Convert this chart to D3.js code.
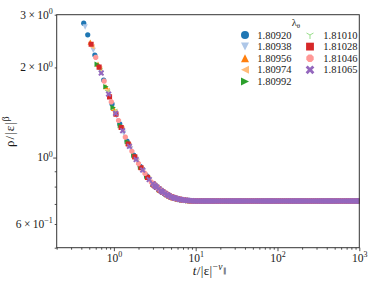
<!DOCTYPE html>
<html><head><meta charset="utf-8">
<script src="https://cdn.jsdelivr.net/npm/d3@7"></script>
<style>
body{margin:0;background:#fff}
svg{display:block}
text{font-family:"Liberation Serif","Times New Roman",serif;fill:#1a1a1a}
</style>
</head><body>
<svg id="c" width="374" height="283"></svg>
<script>
// ---------- data ----------
const lambdas = ["1.80920","1.80938","1.80956","1.80974","1.80992","1.81010","1.81028","1.81046","1.81065"];
const colors  = ["#1f77b4","#aec7e8","#ff7f0e","#ffbb78","#2ca02c","#98df8a","#d62728","#ff9896","#9467bd"];
const shapes  = ["circle","down","up","left","right","tri","square","octagon","x"];

const t0 = [0.428,0.479,0.585,0.75,0.95,1.18,1.45,1.75,2.1,2.5,3.0,3.6,4.3,5.2,6.3];
const r0 = [2.81,2.57,2.20,1.815,1.51,1.295,1.135,1.02,0.935,0.87,0.817,0.78,0.756,0.737,0.726];
const t1 = [0.445,0.56,0.70,0.87,1.08,1.32,1.6,1.93,2.3,2.75,3.3,3.95,4.75,5.7,6.9];
const r1 = [2.73,2.28,1.915,1.62,1.375,1.205,1.07,0.97,0.90,0.84,0.795,0.766,0.745,0.731,0.722];
const t2 = [0.515,0.64,0.8,0.99,1.22,1.48,1.78,2.13,2.55,3.05,3.65,4.4,5.3,6.4];
const r2 = [2.43,2.05,1.725,1.46,1.27,1.12,1.01,0.928,0.863,0.813,0.778,0.754,0.735,0.725];
const t3 = [0.54,0.67,0.83,1.03,1.26,1.53,1.85,2.22,2.65,3.18,3.8,4.55,5.5,6.6];
const r3 = [2.345,1.98,1.676,1.425,1.245,1.10,0.99,0.913,0.85,0.803,0.771,0.75,0.733,0.724];
const t4 = [0.625,0.8,0.98,1.2,1.46,1.76,2.12,2.53,3.02,3.6,4.3,5.15,6.2];
const r4 = [2.05,1.725,1.47,1.28,1.13,1.017,0.93,0.866,0.815,0.78,0.756,0.738,0.727];
const t5 = [0.68,0.84,1.02,1.24,1.5,1.81,2.17,2.6,3.1,3.7,4.42,5.3,6.35];
const r5 = [1.96,1.66,1.435,1.255,1.11,1.002,0.921,0.856,0.809,0.775,0.753,0.735,0.726];
const t6 = [0.527,0.66,0.885,1.06,1.23,1.5,1.8,2.15,2.58,3.08,3.68,4.4,5.25,6.3];
const r6 = [2.39,2.005,1.595,1.395,1.26,1.11,1.005,0.925,0.859,0.81,0.776,0.754,0.736,0.726];
const t7 = [0.6,0.76,0.93,1.14,1.38,1.66,2.0,2.4,2.87,3.42,4.1,4.9,5.9,7.0];
const r7 = [2.16,1.80,1.535,1.33,1.17,1.05,0.955,0.885,0.828,0.788,0.762,0.742,0.729,0.722];
const t8 = [0.70,0.86,1.05,1.28,1.55,1.87,2.25,2.7,3.22,3.85,4.6,5.5,6.6,7.9];
const r8 = [1.915,1.63,1.405,1.23,1.09,0.985,0.908,0.844,0.80,0.769,0.749,0.733,0.724,0.719];

// dense late-time part shared by all series (markers overlap into a band)
const bendT   = [3.0,3.15,3.34,3.54,3.75,3.97,4.2,4.45,4.72,5.0,5.3,5.62,5.96,6.32,6.7,7.1,7.53,7.98,8.46,8.97,9.5];
const bendRho = [0.817,0.807,0.796,0.786,0.776,0.767,0.759,0.752,0.745,0.739,0.735,0.731,0.728,0.725,0.723,0.721,0.72,0.719,0.718,0.717,0.716];
const plateauT = [10,10.6,11.2,11.9,12.6,13.4,14.2,15,15.9,16.9,17.9,19,20.1,21.3,22.6,24,25.4,26.9,28.5,30.2,32,33.9,36,38.1,40.4,42.8,45.4,48.1,51,54,57.3,60.7,64.3,68.2,72.3,76.6,81.2,86.1,91.2,96.7,102.5,108.7,115.2,122,129.4,137.1,145.4,154.1,163.3,173.1,183.5,194.5,206.2,218.6,231.7,245.6,260.3,275.9,292.5,310,328.6,348.4,369.3,391.4,414.9,439.8,466.2,494.2,523.8,555.2,588.6,623.9,661.3,701,743,787.6,834.9,885,938.1,994.4,1000];
const plateauRho = 0.716;

const xMajor = [1,10,100,1000];
const xExp = ["0","1","2","3"];
const xMinor = [0.2,0.3,0.4,0.5,0.6,0.7,0.8,0.9,2,3,4,5,6,7,8,9,20,30,40,50,60,70,80,90,200,300,400,500,600,700,800,900];
const yMajor = [1];
const yMinor = [0.5,0.6,0.7,0.8,0.9,2,3];
const yLabelVals = [3,2,1,0.6];
const yLabelBase = ["3\u2009×\u200910","2\u2009×\u200910","10","6\u2009×\u200910"];
const yLabelExp  = ["0","0","0","\u22121"];

const seriesT = [t0,t1,t2,t3,t4,t5,t6,t7,t8];
const seriesR = [r0,r1,r2,r3,r4,r5,r6,r7,r8];

// ---------- chart ----------
const L=56.7, R=359.3, T=14.7, B=247.7;
const svg = d3.select("#c");
const x = d3.scaleLog().domain([0.2,1000]).range([L,R]);
const y = d3.scaleLog().domain([0.5,3]).range([B,T]);

function markerPath(s, r){
  switch(s){
    case "circle": return `M${r},0A${r},${r} 0 1,1 ${-r},0A${r},${r} 0 1,1 ${r},0Z`;
    case "down": return `M0,${r}L${-r},${-r}L${r},${-r}Z`;
    case "up": return `M0,${-r}L${-r},${r}L${r},${r}Z`;
    case "left": return `M${-r},0L${r},${-r}L${r},${r}Z`;
    case "right": return `M${r},0L${-r},${-r}L${-r},${r}Z`;
    case "square": { const a=r*0.85; return `M${-a},${-a}H${a}V${a}H${-a}Z`; }
    case "tri": return `M0,0L0,${r}M0,0L${-0.87*r},${-0.5*r}M0,0L${0.87*r},${-0.5*r}`;
    case "octagon": { let p=[]; for(let k=0;k<8;k++){const a=Math.PI/8+k*Math.PI/4; p.push([r*Math.cos(a),r*Math.sin(a)]);} return "M"+p.map(q=>q.join(",")).join("L")+"Z"; }
    case "x": {
      const a=r*1.25, w=r*0.38;
      const pl=[[-w,-a],[w,-a],[w,-w],[a,-w],[a,w],[w,w],[w,a],[-w,a],[-w,w],[-a,w],[-a,-w],[-w,-w]];
      const rot=pl.map(([px,py])=>[(px-py)/Math.SQRT2,(px+py)/Math.SQRT2]);
      return "M"+rot.map(q=>q.join(",")).join("L")+"Z";
    }
  }
}
const plotR = {circle:2.6,down:2.7,up:2.7,left:2.7,right:2.7,tri:3,square:3,octagon:2.8,x:2.6};
const legR  = {circle:4,down:4,up:4,left:4,right:4,tri:4,square:4.6,octagon:4,x:3.8};

svg.append("clipPath").attr("id","pc").append("rect").attr("x",L).attr("y",T).attr("width",R-L).attr("height",B-T);
const gp = svg.append("g").attr("clip-path","url(#pc)");

seriesT.forEach((ts,k)=>{
  const pts = ts.map((t,i)=>[t, seriesR[k][i]])
    .concat(bendT.map((t,i)=>[t,bendRho[i]]))
    .concat(plateauT.map(t=>[t,plateauRho]));
  const s = shapes[k];
  gp.append("g").selectAll("path").data(pts).join("path")
    .attr("transform",d=>`translate(${x(d[0])},${y(d[1])})`)
    .attr("d",markerPath(s,plotR[s]))
    .attr("fill", s==="tri" ? "none" : colors[k])
    .attr("stroke", s==="tri" ? colors[k] : "none")
    .attr("stroke-width",1);
});

// axes
const tickCol="#222";
const gx = svg.append("g").attr("transform",`translate(0,${B})`);
gx.call(d3.axisBottom(x).tickValues(xMinor).tickSize(2).tickFormat(()=>""));
const gxM = svg.append("g").attr("transform",`translate(0,${B})`);
gxM.call(d3.axisBottom(x).tickValues(xMajor).tickSize(3.5).tickPadding(2.5).tickFormat(()=>""));
gxM.selectAll(".tick text").each(function(d,i){
  const t=d3.select(this).attr("font-size",11.5).attr("font-family",null);
  t.append("tspan").text("10");
  t.append("tspan").attr("font-size",8).attr("dy",-4.5).text(xExp[i]);
});
const gy = svg.append("g").attr("transform",`translate(${L},0)`);
gy.call(d3.axisLeft(y).tickValues(yMinor).tickSize(2).tickFormat(()=>""));
const gyM = svg.append("g").attr("transform",`translate(${L},0)`);
gyM.call(d3.axisLeft(y).tickValues(yMajor).tickSize(3.5).tickFormat(()=>""));
[gx,gxM,gy,gyM].forEach(g=>{g.select(".domain").remove(); g.attr("font-family",null); g.selectAll("line").attr("stroke",tickCol).attr("stroke-width",0.8);});

yLabelVals.forEach((v,i)=>{
  const t = svg.append("text").attr("x",L-4).attr("y",y(v)+3.8).attr("text-anchor","end").attr("font-size",11.5);
  t.append("tspan").text(yLabelBase[i]);
  t.append("tspan").attr("font-size",8).attr("dy",-4.5).text(yLabelExp[i]);
});

// frame
svg.append("rect").attr("x",L).attr("y",T).attr("width",R-L).attr("height",B-T)
  .attr("fill","none").attr("stroke","#333").attr("stroke-width",1);

// axis labels
const xl = svg.append("text").attr("x",(L+R)/2+2).attr("y",275).attr("text-anchor","middle").attr("font-size",13).attr("letter-spacing",0.4);
xl.append("tspan").attr("font-style","italic").text("t");
xl.append("tspan").text("/|ε|");
xl.append("tspan").attr("font-size",9.5).attr("dy",-5).text("\u2212");
xl.append("tspan").attr("font-size",9.5).attr("font-style","italic").text("ν");
xl.append("tspan").attr("font-size",7).attr("dy",2.5).text("\u2225");

const yl = svg.append("text").attr("transform",`translate(14,${(T+B)/2}) rotate(-90)`).attr("text-anchor","middle").attr("font-size",13).attr("letter-spacing",1);
yl.append("tspan").text("ρ/|ε|");
yl.append("tspan").attr("font-size",9.5).attr("dy",-5).text("β");

// legend
const lt = svg.append("text").attr("x",296).attr("y",26).attr("text-anchor","middle").attr("font-size",10.5);
lt.append("tspan").text("λ");
lt.append("tspan").attr("font-size",7).attr("dy",2).text("θ");

lambdas.forEach((lab,i)=>{
  const col = i<5?0:1, row = i<5?i:i-5;
  const cx = 245 + col*65, cy = 35 + row*11.6;
  const s = shapes[i];
  svg.append("path").attr("transform",`translate(${cx},${cy})`).attr("d",markerPath(s,legR[s]))
    .attr("fill", s==="tri" ? "none" : colors[i])
    .attr("stroke", s==="tri" ? colors[i] : "none").attr("stroke-width",1);
  svg.append("text").attr("x",257.3+col*66).attr("y",cy+3.6).attr("font-size",10.5).text(lab);
});
</script>
</body></html>
